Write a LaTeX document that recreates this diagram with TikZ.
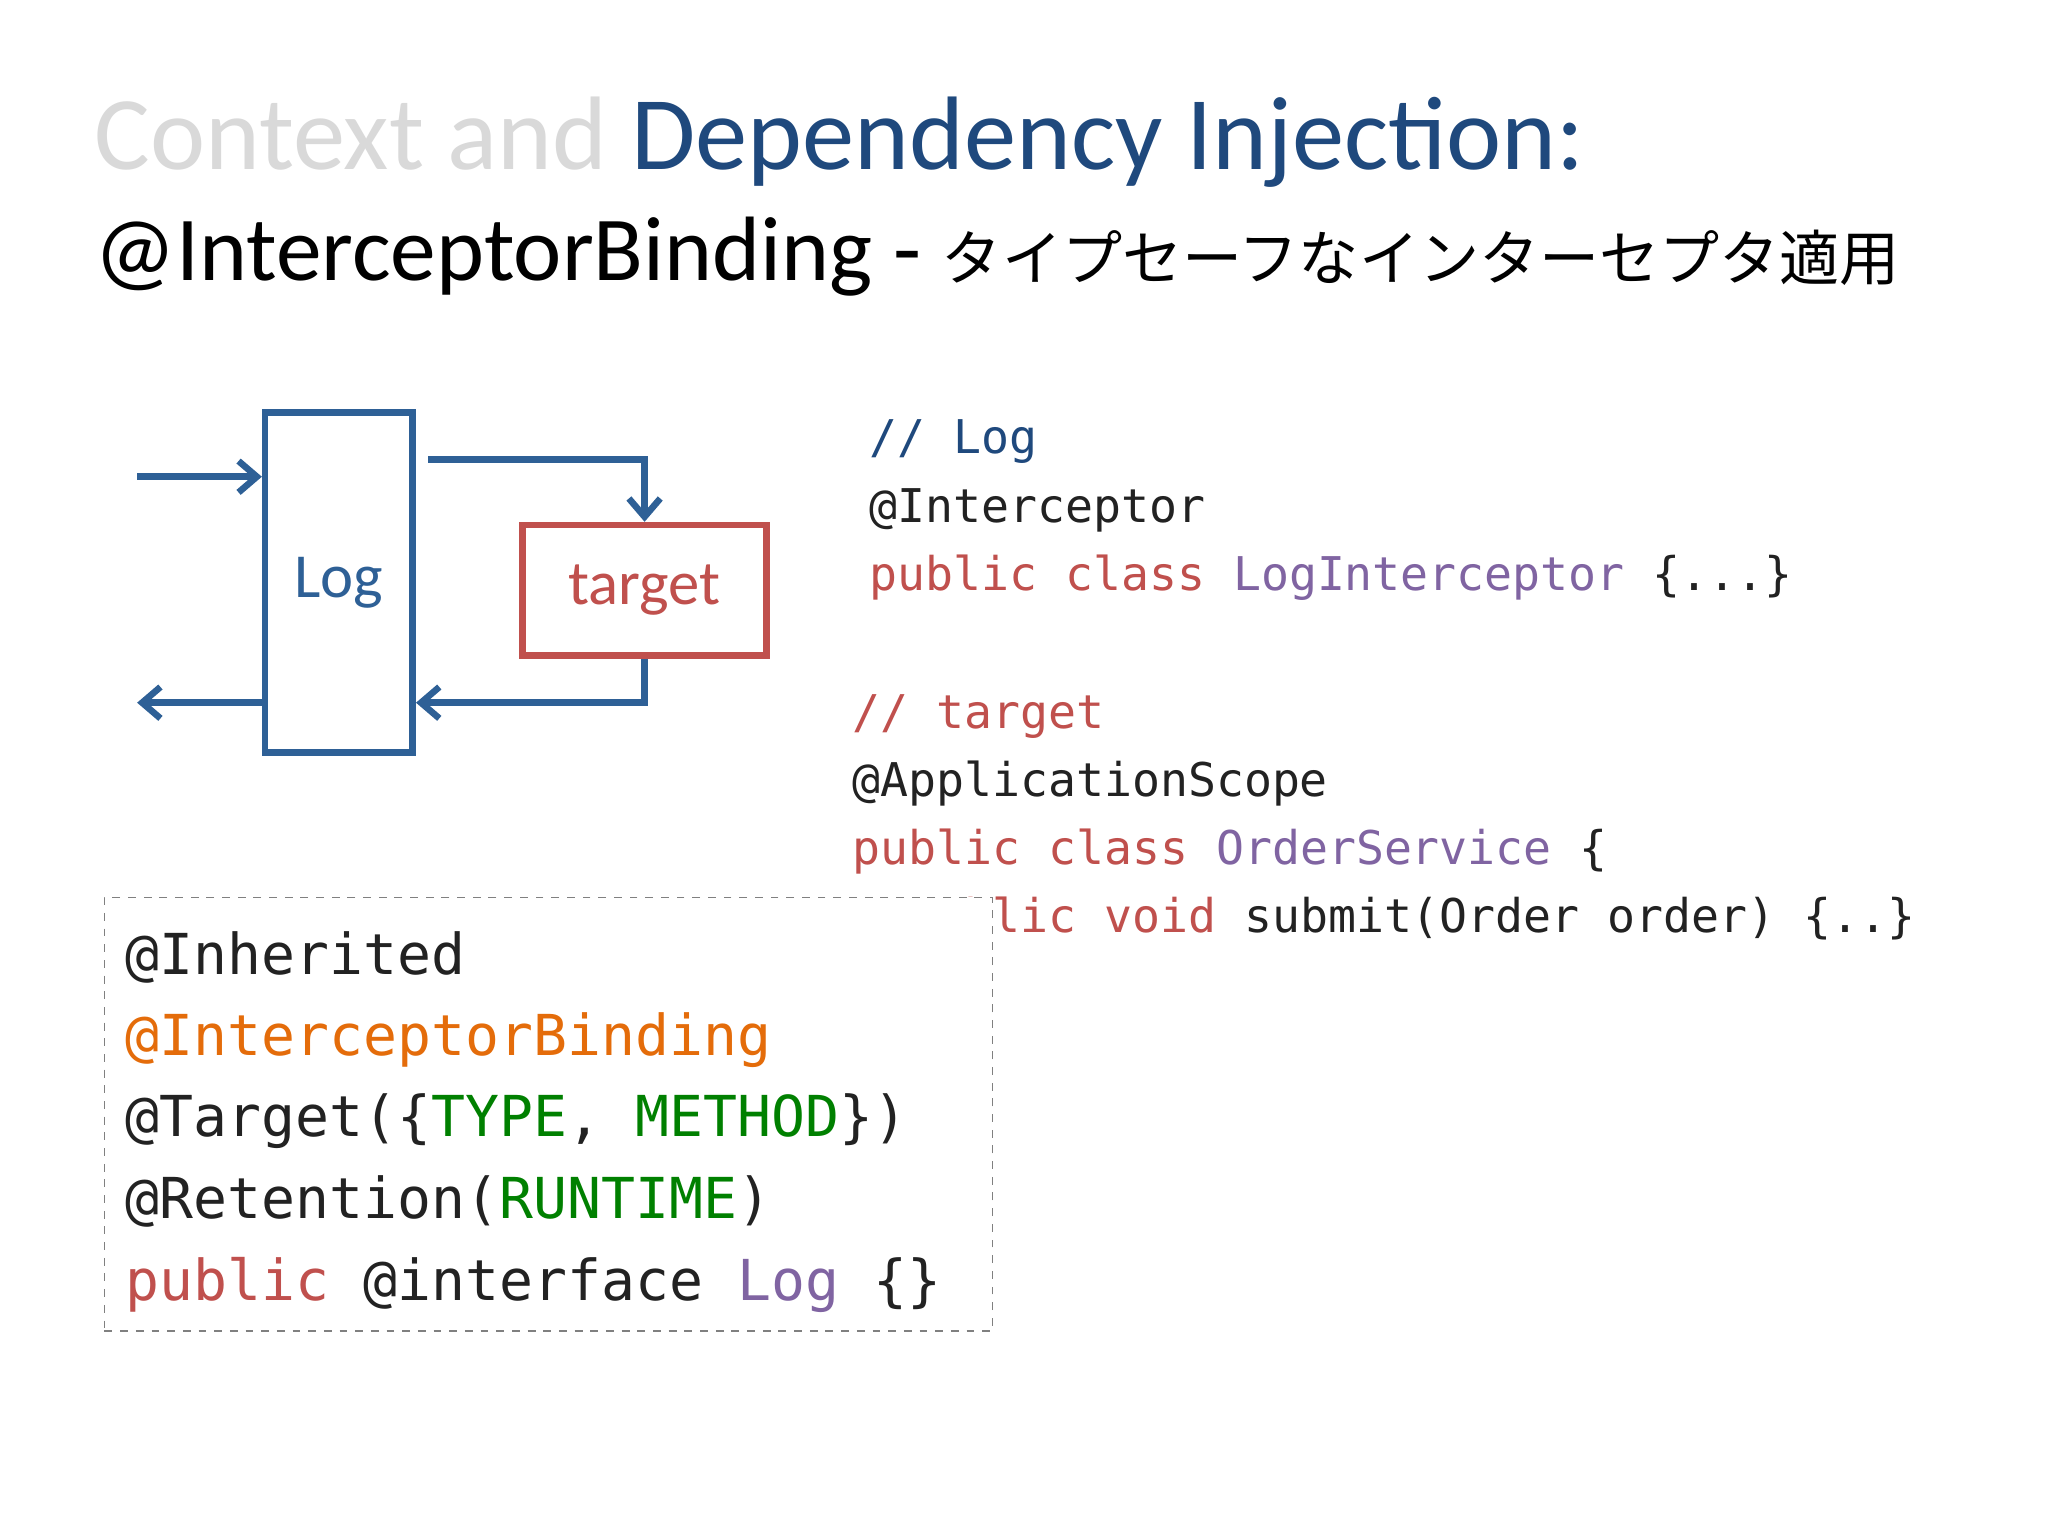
\documentclass[tikz,border=0pt]{standalone}
\usepackage{fontspec}
\setmainfont{Carlito}
\setmonofont{DejaVu Sans Mono}
\newfontfamily\cjk{Noto Sans CJK JP}
\usetikzlibrary{arrows.meta}
\definecolor{ttlgray}{HTML}{D9D9D9}
\definecolor{ttlblue}{HTML}{1F497D}
\definecolor{boxblue}{HTML}{2E6096}
\definecolor{boxred}{HTML}{C0504D}
\definecolor{kwred}{HTML}{C0504D}
\definecolor{clspurple}{HTML}{8064A2}
\definecolor{annorange}{HTML}{E46C0A}
\definecolor{enumgreen}{HTML}{008000}
\definecolor{codeblack}{HTML}{222222}
\begin{document}
\begin{tikzpicture}[x=0.5pt,y=-0.5pt,
  txt/.style={anchor=base west,inner sep=0pt},
  codeR/.style={txt,font=\ttfamily\fontsize{17.8}{20}\selectfont,text=codeblack},
  codeL/.style={txt,font=\ttfamily\fontsize{21.6}{24}\selectfont,text=codeblack},
  flow/.style={draw=boxblue,line width=2.5pt,-{Straight Barb[length=7pt,width=12pt,line width=2.5pt]}}]
\useasboundingbox[fill=white] (0,0) rectangle (1568,1176);
% titles
\node[txt,font=\fontsize{40}{44}\selectfont] (t1) at (72,130) {\textcolor{ttlgray}{Context and }\textcolor{ttlblue}{Dependency Injection:}};
\node[txt,font=\fontsize{35}{40}\selectfont] (t2) at (72,215) {@InterceptorBinding - {\cjk\fontsize{23}{26}\selectfont タイプセーフなインターセプタ適用}};
% diagram
\node[draw=boxblue,line width=2.5pt,minimum width=113pt*0.5,minimum height=260pt*0.5,inner sep=0pt,font=\fontsize{24}{26}\selectfont,text=boxblue] (log) at (259.5,446) {Log};
\node[draw=boxred,line width=2.5pt,minimum width=187pt*0.5,minimum height=100pt*0.5,inner sep=0pt,font=\fontsize{24}{26}\selectfont,text=boxred] (tgt) at (493.5,452) {target};
\coordinate (in) at (105,365);
\coordinate (out) at (105,538);
\coordinate (s1) at (328,352);
\draw[flow] (in) -- (in -| log.west);
\draw[flow] (s1) -- (s1 -| tgt.north) -- (tgt.north);
\draw[flow] (tgt.south) -- (tgt.south |- out) -- (out -| log.east);
\draw[flow] (out -| log.west) -- (out);
% right code
\node[codeR,text=ttlblue] (c1) at (665,347) {// Log};
\node[codeR] (c2) at (665,400) {@Interceptor};
\node[codeR] (c3) at (665,452) {\textcolor{kwred}{public class} \textcolor{clspurple}{LogInterceptor} \{...\}};
\node[codeR,text=kwred] (c4) at (652,558) {// target};
\node[codeR] (c5) at (652,610) {@ApplicationScope};
\node[codeR] (c6) at (652,662) {\textcolor{kwred}{public class} \textcolor{clspurple}{OrderService} \{};
\node[codeR] (c7) at (652,714) {\ \ \textcolor{kwred}{public void} submit(Order order) \{..\}};
% left code box
\node[draw=gray,dashed,fill=white,line width=0.6pt,minimum width=680pt*0.5,minimum height=332pt*0.5,inner sep=0pt] (cb) at (420,853) {};
\node[codeL] (l1) at (96,746) {@Inherited};
\node[codeL,text=annorange] (l2) at (96,808) {@InterceptorBinding};
\node[codeL] (l3) at (96,870) {@Target(\{\textcolor{enumgreen}{TYPE}, \textcolor{enumgreen}{METHOD}\})};
\node[codeL] (l4) at (96,933) {@Retention(\textcolor{enumgreen}{RUNTIME})};
\node[codeL] (l5) at (96,996) {\textcolor{kwred}{public} @interface \textcolor{clspurple}{Log} \{\}};
\end{tikzpicture}
\end{document}
